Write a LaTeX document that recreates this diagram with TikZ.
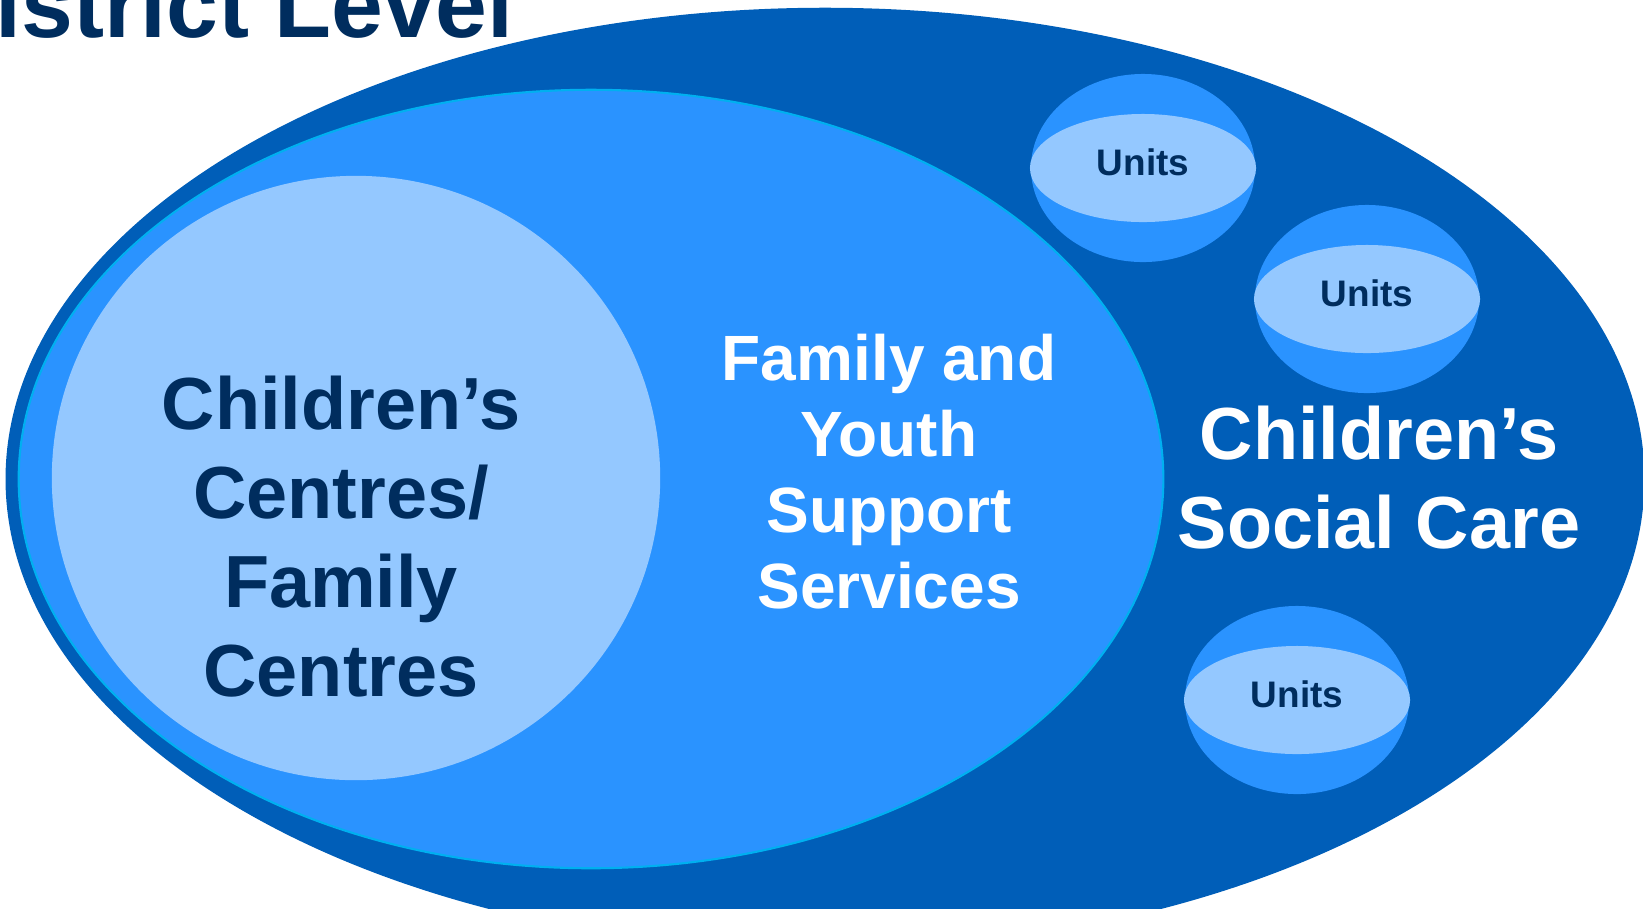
\documentclass[tikz,border=0pt]{standalone}
\usepackage{fontspec}
\setmainfont{Liberation Sans}
\usetikzlibrary{shapes.geometric,positioning}
\definecolor{careblue}{HTML}{005EB8}
\definecolor{midblue}{HTML}{2A93FF}
\definecolor{paleblue}{HTML}{94C8FF}
\definecolor{navy}{HTML}{002D5E}
\definecolor{rimcyan}{HTML}{00B0F0}

\begin{document}
\begin{tikzpicture}[x=0.01cm, y=-0.01cm,
    blob/.style={ellipse, inner sep=0pt, outer sep=0pt},
    unitball/.style={blob, fill=midblue, minimum width=2.24cm, minimum height=1.88cm},
    unitdisc/.style={blob, fill=paleblue, minimum width=2.26cm, minimum height=1.08cm},
    label/.style={align=center, inner sep=0pt},
    biglabel/.style={label, font=\fontsize{21pt}{25.3pt}\selectfont\bfseries},
    midlabel/.style={label, font=\fontsize{18.2pt}{21.6pt}\selectfont\bfseries},
    unitlabel/.style={label, text=navy, font=\fontsize{10.5pt}{12pt}\selectfont\bfseries, yshift=0.06cm}]

    \useasboundingbox (0,0) rectangle (1643,908);
    \clip (0,0) rectangle (1643,908);

    % Ellipses
    \node [blob, fill=careblue, minimum width=16.38cm, minimum height=9.42cm] (care) at (825,479) {};
    \node [blob, fill=midblue, draw=rimcyan, line width=0.6pt, minimum width=11.44cm, minimum height=7.78cm] (fyss) at (591,479) {};
    \node [blob, fill=paleblue, minimum width=6.08cm, minimum height=6.04cm] (centres) at (356,478) {};

    % Units
    \foreach \n/\x/\y in {unitA/1143/168, unitB/1367/299, unitC/1297/700} {
        \node [unitball] (\n) at (\x,\y) {};
        \node [unitdisc] (\n-disc) at (\n) {};
        \node [unitlabel] (\n-text) at (\n) {Units};
    }

    % Labels
    \node [label, anchor=base east, text=navy, font=\fontsize{26.5pt}{30pt}\selectfont\bfseries] (title) at (514,37) {District Level};
    \node [biglabel, text=navy] (centres-text) at (341,537) {Children’s\\Centres/\\Family\\Centres};
    \node [midlabel, text=white] (fyss-text) at (889,472) {Family and\\Youth\\Support\\Services};
    \node [biglabel, text=white] (care-text) at (1379,478) {Children’s\\Social Care};

\end{tikzpicture}
\end{document}
